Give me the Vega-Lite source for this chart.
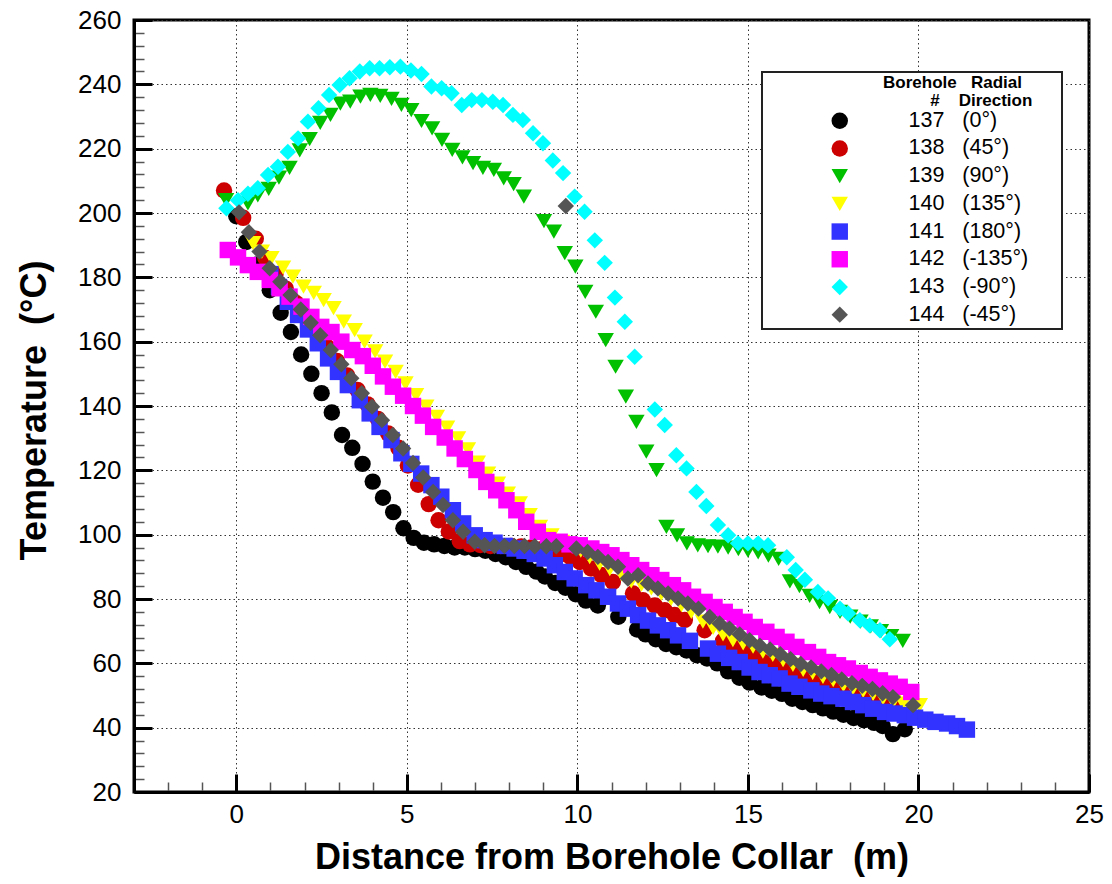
{
  "$schema": "https://vega.github.io/schema/vega-lite/v6.json",
  "width": 955,
  "height": 772,
  "autosize": {"type": "none"},
  "padding": {"left": 134, "top": 20, "right": 23, "bottom": 92},
  "background": "white",
  "config": {
    "view": {"stroke": "black", "strokeWidth": 3},
    "font": "Liberation Sans",
    "legend": {"strokeWidth": 2}
  },
  "data": {"values": [
    {"s":"137","x":0.0,"y":199},{"s":"137","x":0.29,"y":191},{"s":"137","x":0.62,"y":184},{"s":"137","x":0.98,"y":176},{"s":"137","x":1.3,"y":169},{"s":"137","x":1.6,"y":163},{"s":"137","x":1.9,"y":156},{"s":"137","x":2.2,"y":150},{"s":"137","x":2.5,"y":144},{"s":"137","x":2.8,"y":138},{"s":"137","x":3.1,"y":131},{"s":"137","x":3.4,"y":127},{"s":"137","x":3.7,"y":122},{"s":"137","x":4.0,"y":116.5},{"s":"137","x":4.3,"y":111.5},{"s":"137","x":4.6,"y":107},{"s":"137","x":4.9,"y":102},{"s":"137","x":5.2,"y":99},{"s":"137","x":5.5,"y":97.5},{"s":"137","x":5.8,"y":97},{"s":"137","x":6.1,"y":96.5},{"s":"137","x":6.4,"y":96},{"s":"137","x":6.7,"y":96},{"s":"137","x":7.0,"y":95.5},{"s":"137","x":7.3,"y":95},{"s":"137","x":7.6,"y":94},{"s":"137","x":7.9,"y":93},{"s":"137","x":8.2,"y":91.5},{"s":"137","x":8.5,"y":90},{"s":"137","x":8.8,"y":88.5},{"s":"137","x":9.05,"y":87},{"s":"137","x":9.35,"y":85},{"s":"137","x":9.65,"y":83.5},{"s":"137","x":9.95,"y":81.5},{"s":"137","x":10.25,"y":79.5},{"s":"137","x":10.6,"y":78},{"s":"137","x":11.2,"y":74.5},{"s":"137","x":11.75,"y":70.5},{"s":"137","x":12.0,"y":69},{"s":"137","x":12.3,"y":67.5},{"s":"137","x":12.6,"y":66},{"s":"137","x":12.9,"y":65},{"s":"137","x":13.2,"y":64},{"s":"137","x":13.5,"y":62.5},{"s":"137","x":13.8,"y":61.5},{"s":"137","x":14.1,"y":60},{"s":"137","x":14.42,"y":57.5},{"s":"137","x":14.75,"y":55.5},{"s":"137","x":15.05,"y":54},{"s":"137","x":15.4,"y":52.5},{"s":"137","x":15.7,"y":51.5},{"s":"137","x":16.0,"y":50.5},{"s":"137","x":16.3,"y":49},{"s":"137","x":16.6,"y":48},{"s":"137","x":16.9,"y":47},{"s":"137","x":17.2,"y":46},{"s":"137","x":17.5,"y":45},{"s":"137","x":17.8,"y":44},{"s":"137","x":18.1,"y":43},{"s":"137","x":18.4,"y":42.3},{"s":"137","x":18.7,"y":41.5},{"s":"137","x":18.95,"y":40.5},{"s":"137","x":19.25,"y":38},{"s":"137","x":19.6,"y":39.5},
    {"s":"138","x":-0.36,"y":207},{"s":"138","x":0.2,"y":198.5},{"s":"138","x":0.57,"y":192},{"s":"138","x":0.85,"y":186},{"s":"138","x":1.15,"y":181},{"s":"138","x":1.45,"y":176.5},{"s":"138","x":1.75,"y":172},{"s":"138","x":2.05,"y":167.5},{"s":"138","x":2.35,"y":163},{"s":"138","x":2.65,"y":158.5},{"s":"138","x":2.95,"y":154},{"s":"138","x":3.25,"y":149.5},{"s":"138","x":3.55,"y":145},{"s":"138","x":3.85,"y":140.5},{"s":"138","x":4.15,"y":136},{"s":"138","x":4.45,"y":131.5},{"s":"138","x":4.75,"y":127},{"s":"138","x":5.03,"y":121.5},{"s":"138","x":5.33,"y":115.5},{"s":"138","x":5.64,"y":109.5},{"s":"138","x":5.93,"y":104.5},{"s":"138","x":6.23,"y":101},{"s":"138","x":6.55,"y":98},{"s":"138","x":6.85,"y":97},{"s":"138","x":7.15,"y":96.8},{"s":"138","x":7.45,"y":96.5},{"s":"138","x":7.75,"y":96.5},{"s":"138","x":8.05,"y":96.5},{"s":"138","x":8.35,"y":96.3},{"s":"138","x":8.65,"y":96},{"s":"138","x":8.95,"y":95.5},{"s":"138","x":9.25,"y":95},{"s":"138","x":9.55,"y":94},{"s":"138","x":9.8,"y":93},{"s":"138","x":10.07,"y":91.5},{"s":"138","x":10.4,"y":89.5},{"s":"138","x":10.7,"y":87.5},{"s":"138","x":11.04,"y":85.3},{"s":"138","x":11.63,"y":81.7},{"s":"138","x":11.92,"y":79.6},{"s":"138","x":12.27,"y":78},{"s":"138","x":12.56,"y":76.5},{"s":"138","x":12.85,"y":75},{"s":"138","x":13.15,"y":73.5},{"s":"138","x":13.73,"y":70.3},{"s":"138","x":14.27,"y":67},{"s":"138","x":14.56,"y":65.5},{"s":"138","x":14.86,"y":63.5},{"s":"138","x":15.15,"y":62},{"s":"138","x":15.44,"y":60.5},{"s":"138","x":15.73,"y":59.4},{"s":"138","x":16.03,"y":58.4},{"s":"138","x":16.32,"y":57.3},{"s":"138","x":16.62,"y":55.8},{"s":"138","x":16.9,"y":54.7},{"s":"138","x":17.2,"y":53.7},{"s":"138","x":17.5,"y":52.7},{"s":"138","x":17.8,"y":51.6},{"s":"138","x":18.08,"y":50.6},{"s":"138","x":18.38,"y":49.8},{"s":"138","x":18.67,"y":49},{"s":"138","x":18.96,"y":48.3},{"s":"138","x":19.26,"y":47.7},
    {"s":"139","x":-0.3,"y":204},{"s":"139","x":0.34,"y":203},{"s":"139","x":0.63,"y":205.5},{"s":"139","x":0.95,"y":207.5},{"s":"139","x":1.25,"y":211},{"s":"139","x":1.56,"y":214},{"s":"139","x":1.86,"y":219.5},{"s":"139","x":2.15,"y":223},{"s":"139","x":2.46,"y":228},{"s":"139","x":2.76,"y":230.5},{"s":"139","x":3.05,"y":234},{"s":"139","x":3.34,"y":234.6},{"s":"139","x":3.64,"y":236.2},{"s":"139","x":3.93,"y":236.7},{"s":"139","x":4.22,"y":236.4},{"s":"139","x":4.55,"y":235.5},{"s":"139","x":4.84,"y":233.6},{"s":"139","x":5.13,"y":232},{"s":"139","x":5.43,"y":228.6},{"s":"139","x":5.74,"y":226.3},{"s":"139","x":6.03,"y":222.7},{"s":"139","x":6.33,"y":219.6},{"s":"139","x":6.63,"y":217.3},{"s":"139","x":6.94,"y":215.5},{"s":"139","x":7.23,"y":214},{"s":"139","x":7.55,"y":213.4},{"s":"139","x":7.84,"y":210.8},{"s":"139","x":8.13,"y":209},{"s":"139","x":8.43,"y":205.1},{"s":"139","x":9.02,"y":197.5},{"s":"139","x":9.31,"y":194.2},{"s":"139","x":9.63,"y":187.5},{"s":"139","x":9.94,"y":183.3},{"s":"139","x":10.23,"y":175.5},{"s":"139","x":10.54,"y":169.3},{"s":"139","x":10.83,"y":160.5},{"s":"139","x":11.12,"y":152.2},{"s":"139","x":11.42,"y":142.9},{"s":"139","x":11.73,"y":135.1},{"s":"139","x":12.02,"y":125.8},{"s":"139","x":12.32,"y":120.1},{"s":"139","x":12.61,"y":102.4},{"s":"139","x":12.92,"y":99.8},{"s":"139","x":13.21,"y":97.3},{"s":"139","x":13.53,"y":96.7},{"s":"139","x":13.83,"y":96.4},{"s":"139","x":14.12,"y":96.3},{"s":"139","x":14.42,"y":96},{"s":"139","x":14.72,"y":95.5},{"s":"139","x":15.0,"y":95},{"s":"139","x":15.3,"y":94.5},{"s":"139","x":15.6,"y":93.5},{"s":"139","x":15.9,"y":92.5},{"s":"139","x":16.23,"y":85.5},{"s":"139","x":16.51,"y":84},{"s":"139","x":16.81,"y":81},{"s":"139","x":17.1,"y":79},{"s":"139","x":17.4,"y":77.5},{"s":"139","x":17.7,"y":76},{"s":"139","x":18.0,"y":74.5},{"s":"139","x":18.3,"y":73},{"s":"139","x":18.6,"y":71.5},{"s":"139","x":18.9,"y":70},{"s":"139","x":19.2,"y":68.5},{"s":"139","x":19.54,"y":67},
    {"s":"140","x":0.49,"y":190.6},{"s":"140","x":0.75,"y":188},{"s":"140","x":1.03,"y":186},{"s":"140","x":1.37,"y":183},{"s":"140","x":1.66,"y":180.2},{"s":"140","x":1.97,"y":177.1},{"s":"140","x":2.27,"y":175.2},{"s":"140","x":2.56,"y":172.9},{"s":"140","x":2.85,"y":170.4},{"s":"140","x":3.15,"y":166.2},{"s":"140","x":3.47,"y":163.6},{"s":"140","x":3.76,"y":160},{"s":"140","x":4.07,"y":157},{"s":"140","x":4.36,"y":153.8},{"s":"140","x":4.67,"y":150.6},{"s":"140","x":4.96,"y":147},{"s":"140","x":5.27,"y":143.4},{"s":"140","x":5.57,"y":139.8},{"s":"140","x":5.88,"y":136.6},{"s":"140","x":6.18,"y":133.3},{"s":"140","x":6.5,"y":129.9},{"s":"140","x":6.79,"y":126.5},{"s":"140","x":7.08,"y":122.4},{"s":"140","x":7.38,"y":119},{"s":"140","x":7.67,"y":115.9},{"s":"140","x":7.96,"y":112.8},{"s":"140","x":8.31,"y":109.7},{"s":"140","x":8.6,"y":106.1},{"s":"140","x":8.9,"y":102.4},{"s":"140","x":9.24,"y":99.8},{"s":"140","x":9.55,"y":97.8},{"s":"140","x":9.85,"y":96.5},{"s":"140","x":10.1,"y":95},{"s":"140","x":10.36,"y":93},{"s":"140","x":10.65,"y":91},{"s":"140","x":10.95,"y":89.3},{"s":"140","x":11.29,"y":87.7},{"s":"140","x":11.58,"y":85.5},{"s":"140","x":11.88,"y":84.5},{"s":"140","x":12.17,"y":83.3},{"s":"140","x":12.46,"y":81.7},{"s":"140","x":12.75,"y":80},{"s":"140","x":13.05,"y":78.1},{"s":"140","x":13.34,"y":76},{"s":"140","x":13.68,"y":73},{"s":"140","x":13.98,"y":71},{"s":"140","x":14.27,"y":69},{"s":"140","x":14.56,"y":67.2},{"s":"140","x":14.86,"y":66.2},{"s":"140","x":15.15,"y":65.2},{"s":"140","x":15.44,"y":63.6},{"s":"140","x":15.73,"y":62.6},{"s":"140","x":16.03,"y":61},{"s":"140","x":16.32,"y":59.5},{"s":"140","x":16.62,"y":58},{"s":"140","x":16.9,"y":57},{"s":"140","x":17.2,"y":55.8},{"s":"140","x":17.5,"y":54.8},{"s":"140","x":17.8,"y":53.2},{"s":"140","x":18.08,"y":52.2},{"s":"140","x":18.38,"y":51.4},{"s":"140","x":18.67,"y":50.4},{"s":"140","x":18.96,"y":49.1},{"s":"140","x":19.26,"y":48},{"s":"140","x":19.55,"y":47.5},{"s":"140","x":20.04,"y":47},
    {"s":"141","x":1.0,"y":181},{"s":"141","x":1.25,"y":177},{"s":"141","x":1.51,"y":172.4},{"s":"141","x":1.81,"y":168.3},{"s":"141","x":2.1,"y":163.8},{"s":"141","x":2.39,"y":159.5},{"s":"141","x":2.69,"y":154.8},{"s":"141","x":2.98,"y":150.6},{"s":"141","x":3.27,"y":146.5},{"s":"141","x":3.62,"y":141.8},{"s":"141","x":3.91,"y":137.7},{"s":"141","x":4.2,"y":133.5},{"s":"141","x":4.55,"y":129.4},{"s":"141","x":4.84,"y":125.3},{"s":"141","x":5.13,"y":122},{"s":"141","x":5.42,"y":119},{"s":"141","x":5.72,"y":115.4},{"s":"141","x":6.01,"y":111.8},{"s":"141","x":6.35,"y":107.6},{"s":"141","x":6.65,"y":103.5},{"s":"141","x":6.99,"y":99.8},{"s":"141","x":7.28,"y":98.3},{"s":"141","x":7.57,"y":97.5},{"s":"141","x":7.87,"y":96.5},{"s":"141","x":8.16,"y":95.7},{"s":"141","x":8.45,"y":95},{"s":"141","x":8.75,"y":94},{"s":"141","x":9.04,"y":92.6},{"s":"141","x":9.34,"y":90.5},{"s":"141","x":9.63,"y":88.4},{"s":"141","x":9.92,"y":86.4},{"s":"141","x":10.26,"y":84.3},{"s":"141","x":10.56,"y":82.7},{"s":"141","x":10.9,"y":80.7},{"s":"141","x":11.19,"y":78.6},{"s":"141","x":11.48,"y":77},{"s":"141","x":11.78,"y":75},{"s":"141","x":12.07,"y":73.3},{"s":"141","x":12.36,"y":71.8},{"s":"141","x":12.66,"y":70.3},{"s":"141","x":12.95,"y":68.7},{"s":"141","x":13.3,"y":67},{"s":"141","x":13.83,"y":64.6},{"s":"141","x":14.12,"y":63},{"s":"141","x":14.45,"y":61.7},{"s":"141","x":14.76,"y":60.4},{"s":"141","x":15.05,"y":58.7},{"s":"141","x":15.34,"y":57.3},{"s":"141","x":15.64,"y":56.3},{"s":"141","x":15.93,"y":55.3},{"s":"141","x":16.22,"y":53.7},{"s":"141","x":16.51,"y":52.7},{"s":"141","x":16.86,"y":51.6},{"s":"141","x":17.15,"y":50.6},{"s":"141","x":17.45,"y":49.8},{"s":"141","x":17.8,"y":49},{"s":"141","x":18.08,"y":48},{"s":"141","x":18.38,"y":47},{"s":"141","x":18.67,"y":45.9},{"s":"141","x":19.02,"y":44.9},{"s":"141","x":19.3,"y":44.4},{"s":"141","x":19.6,"y":43.9},{"s":"141","x":19.9,"y":43.1},{"s":"141","x":20.2,"y":42.5},{"s":"141","x":20.5,"y":41.8},{"s":"141","x":20.84,"y":41.3},{"s":"141","x":21.13,"y":40.5},{"s":"141","x":21.42,"y":39.4},
    {"s":"142","x":-0.25,"y":188.5},{"s":"142","x":0.05,"y":186.2},{"s":"142","x":0.34,"y":183.8},{"s":"142","x":0.63,"y":181.7},{"s":"142","x":0.98,"y":179.2},{"s":"142","x":1.27,"y":176.6},{"s":"142","x":1.56,"y":174},{"s":"142","x":1.91,"y":170.9},{"s":"142","x":2.2,"y":167.7},{"s":"142","x":2.49,"y":164.6},{"s":"142","x":2.79,"y":163},{"s":"142","x":3.08,"y":160},{"s":"142","x":3.4,"y":157.4},{"s":"142","x":3.71,"y":155.5},{"s":"142","x":4.0,"y":152.5},{"s":"142","x":4.3,"y":149.2},{"s":"142","x":4.59,"y":146},{"s":"142","x":4.89,"y":143.2},{"s":"142","x":5.18,"y":140},{"s":"142","x":5.47,"y":137},{"s":"142","x":5.77,"y":133.5},{"s":"142","x":6.11,"y":130.2},{"s":"142","x":6.4,"y":126.8},{"s":"142","x":6.7,"y":123.5},{"s":"142","x":7.04,"y":120.1},{"s":"142","x":7.33,"y":116.4},{"s":"142","x":7.62,"y":113.8},{"s":"142","x":7.92,"y":110.7},{"s":"142","x":8.21,"y":107.6},{"s":"142","x":8.5,"y":104},{"s":"142","x":8.84,"y":100.9},{"s":"142","x":9.14,"y":98.3},{"s":"142","x":9.48,"y":97.8},{"s":"142","x":9.77,"y":97},{"s":"142","x":10.07,"y":96.7},{"s":"142","x":10.41,"y":95.7},{"s":"142","x":10.7,"y":94.6},{"s":"142","x":11.0,"y":93.6},{"s":"142","x":11.29,"y":92.1},{"s":"142","x":11.58,"y":90.5},{"s":"142","x":11.87,"y":89},{"s":"142","x":12.17,"y":87.4},{"s":"142","x":12.46,"y":85.9},{"s":"142","x":12.8,"y":84.3},{"s":"142","x":13.1,"y":82.7},{"s":"142","x":13.39,"y":80.7},{"s":"142","x":13.73,"y":79.1},{"s":"142","x":14.02,"y":77.5},{"s":"142","x":14.32,"y":76},{"s":"142","x":14.61,"y":74.4},{"s":"142","x":14.9,"y":72.9},{"s":"142","x":15.2,"y":71.3},{"s":"142","x":15.54,"y":69.8},{"s":"142","x":15.84,"y":68.2},{"s":"142","x":16.13,"y":66.7},{"s":"142","x":16.42,"y":65.1},{"s":"142","x":16.76,"y":63.5},{"s":"142","x":17.06,"y":62},{"s":"142","x":17.35,"y":60.4},{"s":"142","x":17.64,"y":59.4},{"s":"142","x":17.93,"y":58.4},{"s":"142","x":18.28,"y":57},{"s":"142","x":18.57,"y":55.8},{"s":"142","x":18.87,"y":54.7},{"s":"142","x":19.16,"y":53.7},{"s":"142","x":19.45,"y":52.7},{"s":"142","x":19.79,"y":51.1},
    {"s":"143","x":-0.29,"y":201.5},{"s":"143","x":0.05,"y":204},{"s":"143","x":0.34,"y":206},{"s":"143","x":0.63,"y":207.7},{"s":"143","x":0.93,"y":211.8},{"s":"143","x":1.22,"y":214.4},{"s":"143","x":1.51,"y":219},{"s":"143","x":1.81,"y":223.2},{"s":"143","x":2.1,"y":228.4},{"s":"143","x":2.41,"y":232.6},{"s":"143","x":2.72,"y":236.7},{"s":"143","x":3.03,"y":239.8},{"s":"143","x":3.32,"y":241.9},{"s":"143","x":3.62,"y":244},{"s":"143","x":3.91,"y":245},{"s":"143","x":4.2,"y":245},{"s":"143","x":4.5,"y":245.3},{"s":"143","x":4.81,"y":245.5},{"s":"143","x":5.12,"y":244.3},{"s":"143","x":5.43,"y":243.2},{"s":"143","x":5.72,"y":239.3},{"s":"143","x":6.02,"y":238.8},{"s":"143","x":6.31,"y":237.2},{"s":"143","x":6.61,"y":233.6},{"s":"143","x":6.9,"y":235.1},{"s":"143","x":7.2,"y":235.1},{"s":"143","x":7.52,"y":234.6},{"s":"143","x":7.82,"y":233.6},{"s":"143","x":8.11,"y":230.5},{"s":"143","x":8.4,"y":228.9},{"s":"143","x":8.7,"y":224.8},{"s":"143","x":8.99,"y":221.7},{"s":"143","x":9.28,"y":216.3},{"s":"143","x":9.58,"y":212.4},{"s":"143","x":9.92,"y":205.1},{"s":"143","x":10.21,"y":200.4},{"s":"143","x":10.51,"y":191.5},{"s":"143","x":10.8,"y":184.5},{"s":"143","x":11.1,"y":173.7},{"s":"143","x":11.39,"y":166.2},{"s":"143","x":11.68,"y":155.3},{"s":"143","x":12.27,"y":138.9},{"s":"143","x":12.56,"y":134.1},{"s":"143","x":12.9,"y":124.7},{"s":"143","x":13.2,"y":120.6},{"s":"143","x":13.49,"y":113.3},{"s":"143","x":13.78,"y":108.9},{"s":"143","x":14.12,"y":103},{"s":"143","x":14.42,"y":99.8},{"s":"143","x":14.71,"y":97.3},{"s":"143","x":15.0,"y":97.3},{"s":"143","x":15.3,"y":97.3},{"s":"143","x":15.59,"y":96.7},{"s":"143","x":16.14,"y":93},{"s":"143","x":16.4,"y":89},{"s":"143","x":16.67,"y":86},{"s":"143","x":17.05,"y":82.2},{"s":"143","x":17.35,"y":80.2},{"s":"143","x":17.7,"y":77},{"s":"143","x":17.94,"y":75.5},{"s":"143","x":18.28,"y":73.4},{"s":"143","x":18.57,"y":71.8},{"s":"143","x":18.87,"y":70.3},{"s":"143","x":19.16,"y":67.5},
    {"s":"144","x":0.08,"y":200.2},{"s":"144","x":0.37,"y":194},{"s":"144","x":0.68,"y":188},{"s":"144","x":0.98,"y":182.8},{"s":"144","x":1.29,"y":178.6},{"s":"144","x":1.59,"y":174.5},{"s":"144","x":1.89,"y":170},{"s":"144","x":2.18,"y":165.9},{"s":"144","x":2.46,"y":162},{"s":"144","x":2.77,"y":157.4},{"s":"144","x":3.08,"y":153},{"s":"144","x":3.37,"y":148.6},{"s":"144","x":3.68,"y":144},{"s":"144","x":3.98,"y":139.8},{"s":"144","x":4.27,"y":135.6},{"s":"144","x":4.59,"y":131},{"s":"144","x":4.89,"y":126.8},{"s":"144","x":5.18,"y":122.3},{"s":"144","x":5.48,"y":117.8},{"s":"144","x":5.77,"y":113.3},{"s":"144","x":6.06,"y":109.2},{"s":"144","x":6.35,"y":104.5},{"s":"144","x":6.65,"y":100.9},{"s":"144","x":6.99,"y":97.8},{"s":"144","x":7.28,"y":96.7},{"s":"144","x":7.57,"y":96.5},{"s":"144","x":7.86,"y":96.5},{"s":"144","x":8.15,"y":96.5},{"s":"144","x":8.45,"y":96.5},{"s":"144","x":8.75,"y":96.4},{"s":"144","x":9.09,"y":96.4},{"s":"144","x":9.38,"y":96.4},{"s":"144","x":9.66,"y":202.2},{"s":"144","x":9.97,"y":95.7},{"s":"144","x":10.3,"y":94.6},{"s":"144","x":10.6,"y":93.1},{"s":"144","x":10.9,"y":91.5},{"s":"144","x":11.19,"y":90},{"s":"144","x":11.48,"y":86.4},{"s":"144","x":11.78,"y":87.4},{"s":"144","x":12.07,"y":84.8},{"s":"144","x":12.36,"y":83.3},{"s":"144","x":12.66,"y":81.7},{"s":"144","x":12.95,"y":80.2},{"s":"144","x":13.24,"y":78.6},{"s":"144","x":13.55,"y":77},{"s":"144","x":13.88,"y":74.4},{"s":"144","x":14.17,"y":72.4},{"s":"144","x":14.46,"y":70.8},{"s":"144","x":14.76,"y":69},{"s":"144","x":15.05,"y":67.2},{"s":"144","x":15.35,"y":65.5},{"s":"144","x":15.65,"y":64.3},{"s":"144","x":15.95,"y":62.8},{"s":"144","x":16.25,"y":61.3},{"s":"144","x":16.55,"y":59.8},{"s":"144","x":16.85,"y":58.7},{"s":"144","x":17.15,"y":57.5},{"s":"144","x":17.45,"y":56.4},{"s":"144","x":17.75,"y":55},{"s":"144","x":18.05,"y":53.8},{"s":"144","x":18.35,"y":53},{"s":"144","x":18.65,"y":52},{"s":"144","x":18.95,"y":50.7},{"s":"144","x":19.25,"y":49.5},{"s":"144","x":19.84,"y":47}
  ]},
  "mark": {"type": "point", "filled": true, "opacity": 1, "strokeWidth": 0},
  "encoding": {
    "x": {
      "field": "x", "type": "quantitative",
      "scale": {"domain": [-3, 25], "nice": false, "zero": false},
      "axis": {
        "title": "Distance from Borehole Collar\u00a0\u00a0(m)",
        "titleFont": "Liberation Sans", "titleFontSize": 36, "titleFontWeight": "bold", "titleColor": "black",
        "titleX": 477.5, "titleY": 76, "titleBaseline": "alphabetic", "titleAnchor": "middle",
        "values": [-3,-2,-1,0,1,2,3,4,5,6,7,8,9,10,11,12,13,14,15,16,17,18,19,20,21,22,23,24,25],
        "labelExpr": "datum.value % 5 === 0 ? datum.label : ''",
        "labelFontSize": 26, "labelColor": "black", "labelFont": "Liberation Sans",
        "labelFlush": false, "labelOverlap": false,
        "labelPadding": 27,
        "tickSize": {"condition": {"test": "datum.value % 5 === 0", "value": -18}, "value": -10},
        "tickWidth": {"condition": {"test": "datum.value % 5 === 0", "value": 3}, "value": 1.5},
        "tickColor": {"condition": {"test": "datum.value % 5 === 0", "value": "black"}, "value": "#555555"},
        "domainColor": "black", "domainWidth": 3,
        "grid": true, "gridColor": "#333333", "gridWidth": 1, "gridDash": [1.5, 3],
        "gridOpacity": {"condition": {"test": "datum.value % 5 === 0", "value": 1}, "value": 0}
      }
    },
    "y": {
      "field": "y", "type": "quantitative",
      "scale": {"domain": [20, 260], "nice": false, "zero": false},
      "axis": {
        "title": "Temperature\u00a0\u00a0(°C)",
        "titleFont": "Liberation Sans", "titleFontSize": 36, "titleFontWeight": "bold", "titleColor": "black",
        "titleX": -89, "titleY": 390, "titleAngle": -90, "titleBaseline": "alphabetic", "titleAnchor": "middle",
        "values": [20,24,28,32,36,40,44,48,52,56,60,64,68,72,76,80,84,88,92,96,100,104,108,112,116,120,124,128,132,136,140,144,148,152,156,160,164,168,172,176,180,184,188,192,196,200,204,208,212,216,220,224,228,232,236,240,244,248,252,256,260],
        "labelExpr": "datum.value % 20 === 0 ? datum.label : ''",
        "labelFontSize": 26, "labelColor": "black", "labelFont": "Liberation Sans",
        "labelFlush": false, "labelOverlap": false,
        "labelPadding": 31,
        "tickSize": {"condition": {"test": "datum.value % 20 === 0", "value": -18}, "value": -10},
        "tickWidth": {"condition": {"test": "datum.value % 20 === 0", "value": 3}, "value": 1.5},
        "tickColor": {"condition": {"test": "datum.value % 20 === 0", "value": "black"}, "value": "#555555"},
        "domainColor": "black", "domainWidth": 3,
        "grid": true, "gridColor": "#333333", "gridWidth": 1, "gridDash": [1.5, 3],
        "gridOpacity": {"condition": {"test": "datum.value % 20 === 0", "value": 1}, "value": 0}
      }
    },
    "color": {
      "field": "s", "type": "nominal",
      "scale": {"domain": ["137","138","139","140","141","142","143","144"],
                "range": ["#000000","#cc0000","#00c000","#ffff00","#3333ff","#ff00ff","#00ffff","#555555"]},
      "legend": {
        "orient": "none", "legendX": 628, "legendY": 52, "direction": "vertical",
        "title": ["\u200b\u00a0\u00a0\u00a0\u00a0\u00a0\u00a0\u00a0\u00a0\u00a0\u00a0\u00a0\u00a0\u00a0\u00a0\u00a0\u00a0\u00a0\u00a0\u00a0\u00a0\u00a0\u00a0\u00a0\u00a0\u00a0Borehole\u00a0\u00a0\u00a0Radial", "\u200b\u00a0\u00a0\u00a0\u00a0\u00a0\u00a0\u00a0\u00a0\u00a0\u00a0\u00a0\u00a0\u00a0\u00a0\u00a0\u00a0\u00a0\u00a0\u00a0\u00a0\u00a0\u00a0\u00a0\u00a0\u00a0\u00a0\u00a0\u00a0\u00a0\u00a0\u00a0\u00a0\u00a0\u00a0\u00a0#\u00a0\u00a0\u00a0\u00a0Direction"],
        "titleFont": "Liberation Sans", "titleFontSize": 17, "titleFontWeight": "bold", "titleColor": "black",
        "titleLineHeight": 18, "titleAnchor": "start", "titleAlign": "left", "titlePadding": 0, "titleLimit": 600,
        "labelFont": "Liberation Sans", "labelFontSize": 21.5, "labelColor": "black", "labelLimit": 600,
        "labelExpr": "{'137':'137\u00a0\u00a0\u00a0(0°)','138':'138\u00a0\u00a0\u00a0(45°)','139':'139\u00a0\u00a0\u00a0(90°)','140':'140\u00a0\u00a0\u00a0(135°)','141':'141\u00a0\u00a0\u00a0(180°)','142':'142\u00a0\u00a0\u00a0(-135°)\u00a0\u00a0\u00a0\u00a0\u00a0\u200b','143':'143\u00a0\u00a0\u00a0(-90°)','144':'144\u00a0\u00a0\u00a0(-45°)'}[datum.label]",
        "symbolOffset": 64, "labelOffset": 58, "rowPadding": 4.7,
        "padding": 3, "strokeColor": "#222222", "fillColor": "white",
        "symbolStrokeWidth": 0
      }
    },
    "shape": {
      "field": "s", "type": "nominal",
      "scale": {"domain": ["137","138","139","140","141","142","143","144"],
                "range": ["circle","circle","triangle-down","triangle-down","square","square","diamond","diamond"]}
    },
    "size": {
      "field": "s", "type": "nominal",
      "scale": {"domain": ["137","138","139","140","141","142","143","144"],
                "range": [270,270,196,196,156,156,240,240]}
    }
  }
}
